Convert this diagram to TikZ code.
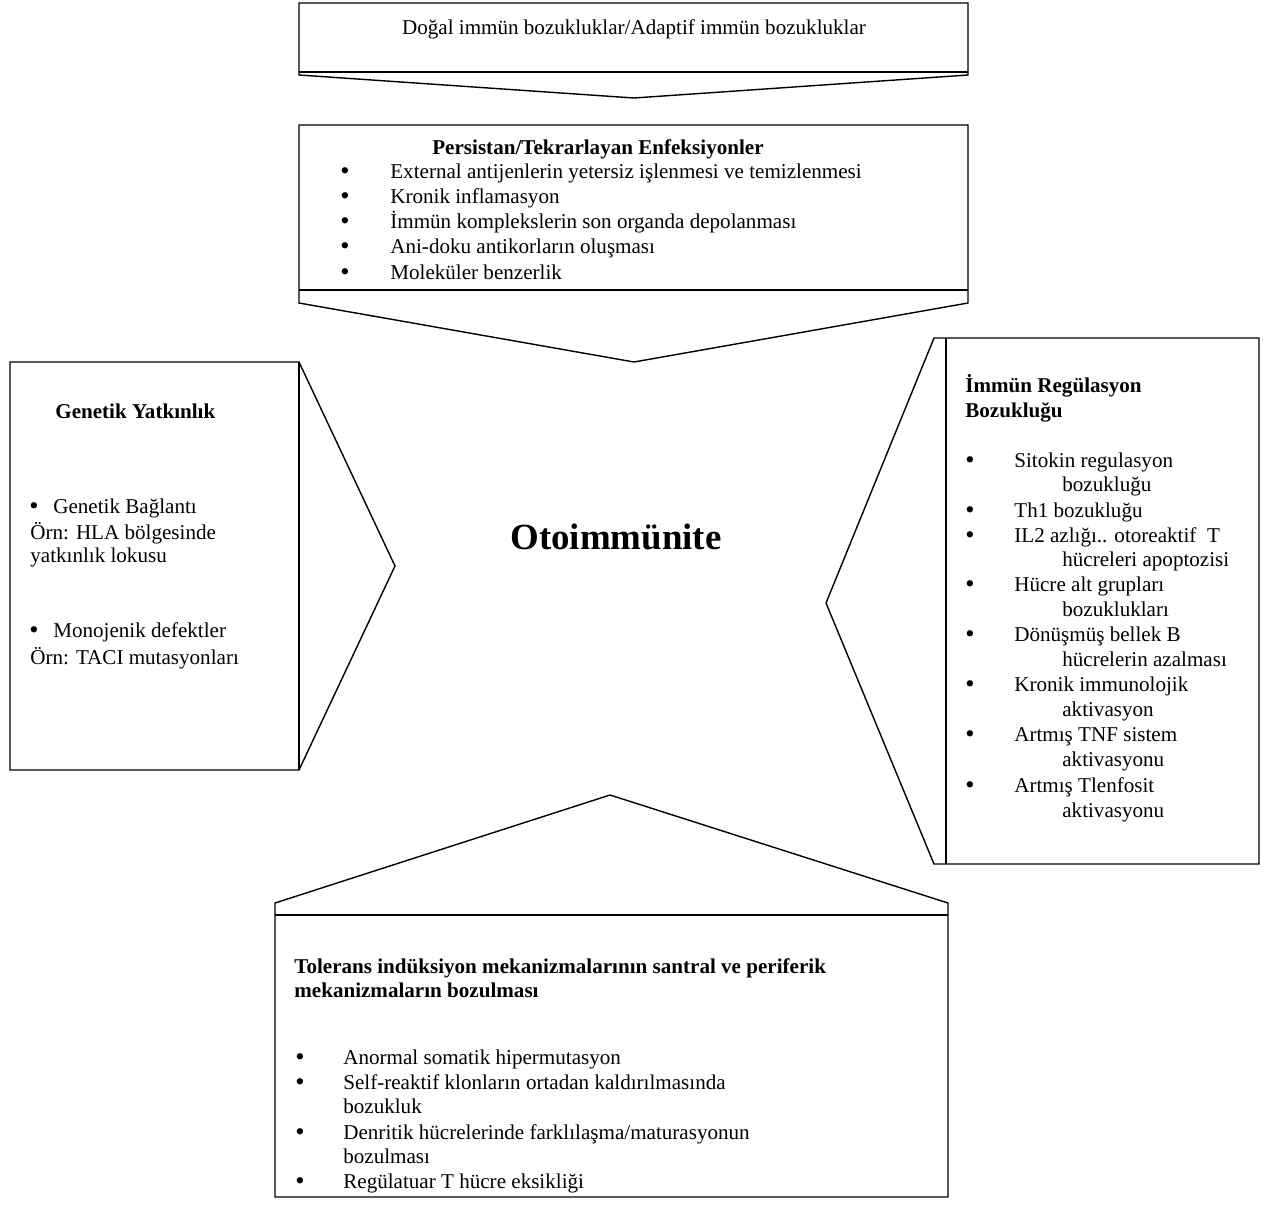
\documentclass[tikz,border=0pt]{standalone}
\usepackage{fontspec}
\setmainfont{Liberation Serif}
\usetikzlibrary{positioning}

\begin{document}
\begin{tikzpicture}[x=0.02cm, y=-0.02cm,
    callout/.style={draw, line width=0.8pt, line join=miter},
    txt/.style={anchor=base west, inner sep=0pt, yshift=-2*0.02cm, font=\fontsize{12}{14}\selectfont},
    head/.style={txt, font=\fontsize{12}{14}\selectfont\bfseries},
    dot/.style={txt, yshift=-1*0.02cm, font=\fontsize{15}{15}\selectfont}
  ]
  \useasboundingbox (0,0) rectangle (1263,1227);

  % Ust kutu
  \draw[callout] (299,3) -- (968,3) -- (968,75) -- (634,98) -- (299,75) -- cycle;
  \draw[callout] (299,72) -- (968,72);
  \node[txt, anchor=base] (dogal) at (634,32) {Doğal immün bozukluklar/Adaptif immün bozukluklar};

  % Enfeksiyonlar
  \draw[callout] (299,125) -- (968,125) -- (968,303) -- (634,362) -- (299,303) -- cycle;
  \draw[callout] (299,290) -- (968,290);
  \node[head, anchor=base] (enf) at (598,152) {Persistan/Tekrarlayan Enfeksiyonler};
  \begin{scope}
    \clip (299,125) rectangle (968,282);
    \foreach \yy/\lbl [count=\i] in {176/External antijenlerin yetersiz işlenmesi ve temizlenmesi,
        201/Kronik inflamasyon, 226/İmmün komplekslerin son organda depolanması,
        251/Ani-doku antikorların oluşması, 277/Moleküler benzerlik}{
      \node[dot] (enfb\i) at (340,\yy) {\textbullet};
      \node[txt] (enf\i) at (390,\yy) {\lbl};
    }
  \end{scope}

  % Genetik
  \draw[callout] (10,362) -- (299,362) -- (395,566) -- (299,770) -- (10,770) -- cycle;
  \draw[callout] (299,362) -- (299,770);
  \node[head] (gen) at (55,416) {Genetik Yatkınlık};
  \node[dot] (genb1) at (29,511) {\textbullet};
  \node[txt] (gen1) at (53,511) {Genetik Bağlantı};
  \node[txt] (gen2) at (30,537) {Örn: HLA bölgesinde};
  \node[txt] (gen3) at (30,560) {yatkınlık lokusu};
  \node[dot] (genb2) at (29,635) {\textbullet};
  \node[txt] (gen4) at (53,635) {Monojenik defektler};
  \node[txt] (gen5) at (30,662) {Örn: TACI mutasyonları};

  % Orta
  \node[anchor=base, inner sep=0pt, font=\fontsize{21}{24}\selectfont\bfseries] (oto) at (616,549) {Otoimmünite};

  % Immun regulasyon
  \draw[callout] (934,338) -- (1259,338) -- (1259,864) -- (934,864) -- (826,603) -- cycle;
  \draw[callout] (946,338) -- (946,864);
  \node[head] (reg1) at (965,390) {İmmün Regülasyon};
  \node[head] (reg2) at (965,415) {Bozukluğu};
  \foreach \yy/\lbl [count=\i] in {465/Sitokin regulasyon, 515/Th1 bozukluğu,
      540/IL2 azlığı.. otoreaktif\ \ T, 589/Hücre alt grupları, 639/Dönüşmüş bellek B,
      689/Kronik immunolojik, 739/Artmış TNF sistem, 790/Artmış Tlenfosit}{
    \node[dot] (regb\i) at (965,\yy) {\textbullet};
    \node[txt] (regi\i) at (1014,\yy) {\lbl};
  }
  \foreach \yy/\lbl [count=\i] in {489/bozukluğu, 564/hücreleri apoptozisi,
      614/bozuklukları, 664/hücrelerin azalması, 714/aktivasyon,
      764/aktivasyonu, 815/aktivasyonu}{
    \node[txt] (regc\i) at (1062,\yy) {\lbl};
  }

  % Tolerans
  \draw[callout] (275,903) -- (610,795) -- (948,903) -- (948,1197) -- (275,1197) -- cycle;
  \draw[callout] (275,915) -- (948,915);
  \node[head] (tol1) at (294,971) {Tolerans indüksiyon mekanizmalarının santral ve periferik};
  \node[head] (tol2) at (294,995) {mekanizmaların bozulması};
  \foreach \yy/\lbl [count=\i] in {1062/Anormal somatik hipermutasyon,
      1087/Self-reaktif klonların ortadan kaldırılmasında,
      1137/{Denritik hücrelerinde farklılaşma/maturasyonun},
      1186/Regülatuar T hücre eksikliği}{
    \node[dot] (tolb\i) at (295,\yy) {\textbullet};
    \node[txt] (toli\i) at (343,\yy) {\lbl};
  }
  \node[txt] (tolc1) at (343,1111) {bozukluk};
  \node[txt] (tolc2) at (343,1161) {bozulması};

\end{tikzpicture}
\end{document}
